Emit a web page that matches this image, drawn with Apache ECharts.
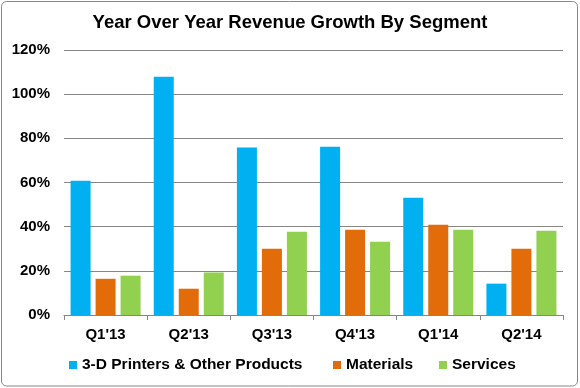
<!DOCTYPE html>
<html>
<head>
<meta charset="utf-8">
<script src="https://cdn.jsdelivr.net/npm/echarts@6/dist/echarts.min.js"></script>
<style>
html,body{margin:0;padding:0;background:#fff;}
#chart{width:580px;height:388px;}
</style>
</head>
<body>
<div id="chart"></div>
<script>
var categories = ["Q1'13", "Q2'13", "Q3'13", "Q4'13", "Q1'14", "Q2'14"];
var printers = [60.8, 107.9, 75.8, 76.2, 53.1, 14.2];
var materials = [16.4, 11.9, 30.0, 38.6, 40.9, 30.0];
var services = [17.8, 19.2, 37.7, 33.2, 38.6, 38.2];
var yTicks = [0, 20, 40, 60, 80, 100, 120];

var font = "'Liberation Sans', Arial, sans-serif";
var chart = echarts.init(document.getElementById('chart'), null, {renderer: 'canvas'});
var legendText = {fontFamily: font, fontWeight: 'bold', fontSize: 15.5, color: '#000'};
function leg(name, x) {
  return {data: [name], left: x, top: 357, padding: 0, itemWidth: 8, itemHeight: 8, itemGap: 0, textStyle: legendText, icon: 'rect'};
}
chart.setOption({
  animation: false,
  title: {
    text: 'Year Over Year Revenue Growth By Segment',
    left: 'center', top: 13, padding: 0,
    textStyle: {fontFamily: font, fontWeight: 'bold', fontSize: 18.5, color: '#000'}
  },
  graphic: [{
    type: 'rect', silent: true, z: -1,
    shape: {x: 1.5, y: 1.5, width: 576, height: 384.5, r: 5},
    style: {fill: 'none', stroke: '#868686', lineWidth: 1}
  }],
  legend: [
    leg('3-D Printers & Other Products', 69),
    leg('Materials', 333),
    leg('Services', 439)
  ],
  grid: {left: 64, right: 17, top: 50, bottom: 73},
  xAxis: {
    type: 'category',
    data: categories,
    axisLine: {lineStyle: {color: '#868686', width: 1}},
    axisTick: {show: true, length: 5, lineStyle: {color: '#868686'}},
    axisLabel: {fontFamily: font, fontWeight: 'bold', fontSize: 15, color: '#000', margin: 12}
  },
  yAxis: {
    type: 'value',
    min: yTicks[0], max: yTicks[yTicks.length - 1], interval: 20,
    axisLine: {show: false},
    axisTick: {show: false},
    splitLine: {lineStyle: {color: '#868686', width: 1}},
    axisLabel: {formatter: '{value}%', fontFamily: font, fontWeight: 'bold', fontSize: 15, color: '#000', margin: 14}
  },
  series: [
    {name: '3-D Printers & Other Products', type: 'bar', data: printers, barWidth: 20, barGap: '25%', itemStyle: {color: '#00B0F0'}},
    {name: 'Materials', type: 'bar', data: materials, barWidth: 20, barGap: '25%', itemStyle: {color: '#E36C0A'}},
    {name: 'Services', type: 'bar', data: services, barWidth: 20, barGap: '25%', itemStyle: {color: '#92D050'}}
  ]
});
</script>
</body>
</html>
